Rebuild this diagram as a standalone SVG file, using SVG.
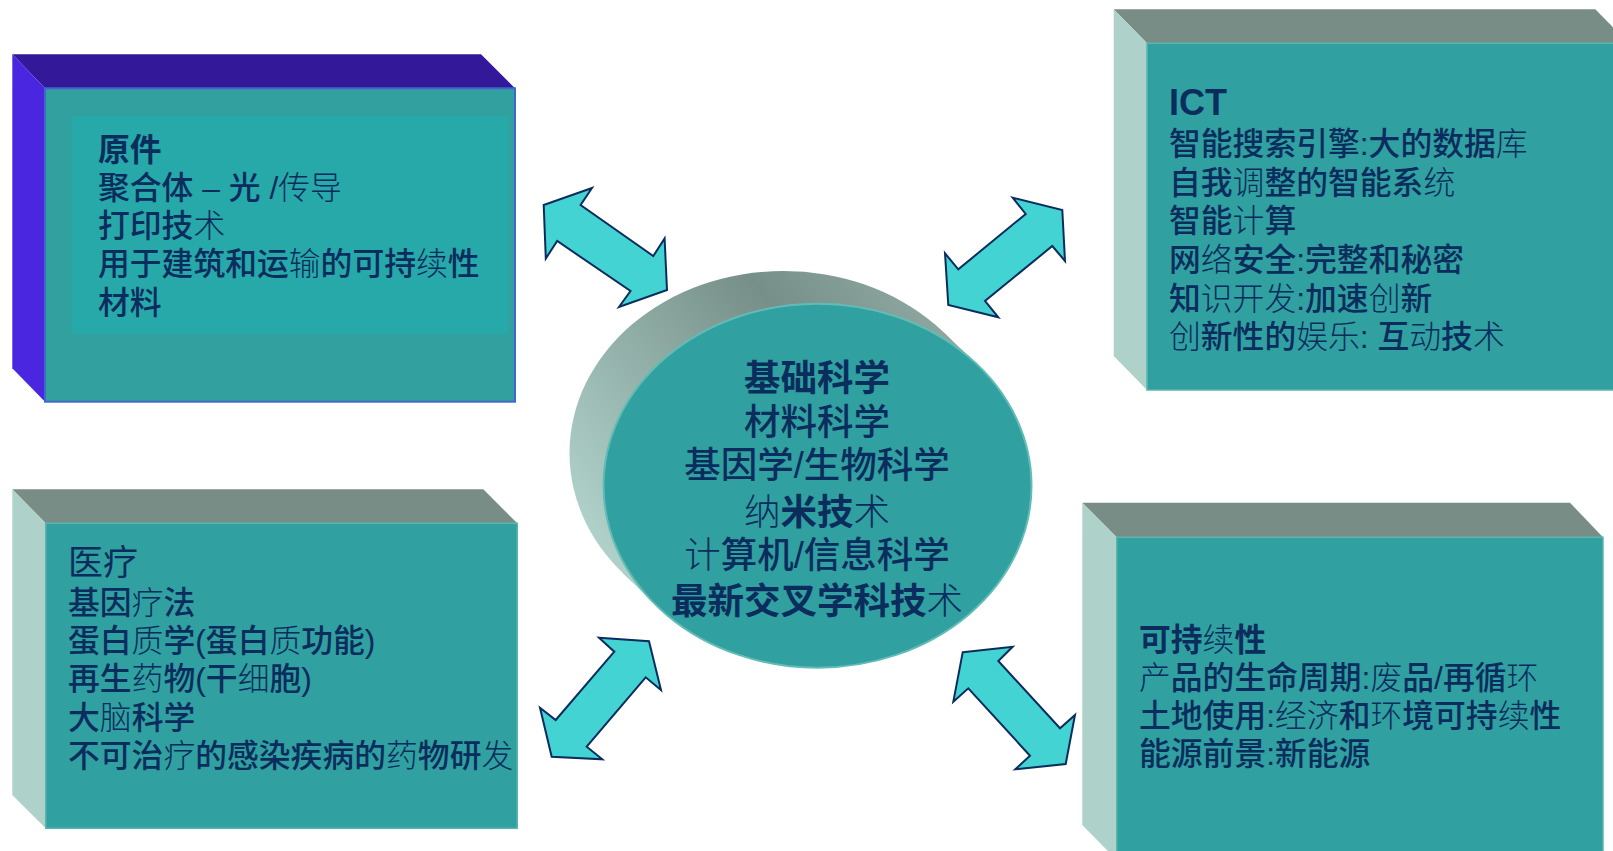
<svg xmlns="http://www.w3.org/2000/svg" width="1613" height="851" viewBox="0 0 1613 851">
<defs>
<style>
.tx{font-family:"Liberation Sans","Noto Sans CJK SC","Noto Sans CJK JP",sans-serif;fill:#0b2d5e;font-size:31.8px;font-weight:500}
.h{font-weight:700}
.l{font-weight:300}
.el{font-size:36.5px;text-anchor:middle}
.top{fill:#778d86}
.side{fill:#aed2ca}
.front{fill:#31a0a0;stroke:#5db6ae;stroke-width:1.5}
.arr{fill:#43d3d3;stroke:#0b2d5e;stroke-width:2;stroke-linejoin:miter}
</style>
<linearGradient id="ext" gradientUnits="userSpaceOnUse" x1="585" y1="560" x2="930" y2="300">
<stop offset="0" stop-color="#b3d6ce"/>
<stop offset="0.7" stop-color="#768f88"/>
<stop offset="1" stop-color="#8ea8a1"/>
</linearGradient>
</defs>
<rect width="1613" height="851" fill="#ffffff"/>

<g id="node-materials">
<polygon points="12.3,54.3 481,54.3 515,88.3 45,88.3" fill="#33189a"/>
<polygon points="12.3,54.3 45,88.3 45,401.7 12.3,368.3" fill="#4a26e0"/>
<rect x="45" y="88.3" width="470" height="313.4" fill="#31a09f" stroke="#3f68cc" stroke-width="2"/>
<rect x="71.7" y="116" width="436.3" height="218" fill="#27a8a9"/>
<text class="tx h" x="98" y="161">原件</text>
<text class="tx" x="98" y="199">聚合体 – 光 <tspan class="l">/传导</tspan></text>
<text class="tx" x="98" y="237">打印技<tspan class="l">术</tspan></text>
<text class="tx" x="98" y="275">用于建筑和运<tspan class="l">输</tspan>的可持<tspan class="l">续</tspan>性</text>
<text class="tx" x="98" y="313.5">材料</text>
</g>

<g id="node-ict">
<polygon class="top" points="1113.7,9.3 1595.3,9.3 1629,43.3 1147,43.3"/>
<polygon class="side" points="1113.7,9.3 1147,43.3 1147,390 1113.7,356"/>
<rect class="front" x="1147" y="43.3" width="480" height="346.7"/>
<text x="1169" y="115" font-family="Liberation Sans, Arial, sans-serif" font-weight="700" font-size="36" fill="#0b2d5e">ICT</text>
<text class="tx" x="1169" y="155">智能搜索引擎:大的数据<tspan class="l">库</tspan></text>
<text class="tx" x="1169" y="194">自我<tspan class="l">调</tspan>整的智能系<tspan class="l">统</tspan></text>
<text class="tx" x="1169" y="232">智能<tspan class="l">计</tspan>算</text>
<text class="tx" x="1169" y="271">网<tspan class="l">络</tspan>安全:完整和秘密</text>
<text class="tx" x="1169" y="309.5">知<tspan class="l">识开发</tspan>:加速<tspan class="l">创</tspan>新</text>
<text class="tx" x="1169" y="348"><tspan class="l">创</tspan>新性的<tspan class="l">娱乐: </tspan>互<tspan class="l">动</tspan>技<tspan class="l">术</tspan></text>
</g>

<g id="node-medical">
<polygon class="top" points="12.3,489.3 483.3,489.3 517.3,523.3 45.7,523.3"/>
<polygon class="side" points="12.3,489.3 45.7,523.3 45.7,828.3 12.3,795"/>
<rect class="front" x="45.7" y="523.3" width="471.6" height="305"/>
<text class="tx" x="68" y="575" style="font-size:35px;font-weight:400">医疗</text>
<text class="tx" x="68" y="613.5">基因<tspan class="l">疗</tspan>法</text>
<text class="tx" x="68" y="652">蛋白<tspan class="l">质</tspan>学<tspan class="l">(</tspan>蛋白<tspan class="l">质</tspan>功能<tspan class="l">)</tspan></text>
<text class="tx" x="68" y="690">再生<tspan class="l">药</tspan>物<tspan class="l">(</tspan>干<tspan class="l">细</tspan>胞<tspan class="l">)</tspan></text>
<text class="tx" x="68" y="728.5">大<tspan class="l">脑</tspan>科学</text>
<text class="tx" x="68" y="767">不可治<tspan class="l">疗</tspan>的感染疾病的<tspan class="l">药</tspan>物研<tspan class="l">发</tspan></text>
</g>

<g id="node-sustainability">
<polygon class="top" points="1082.3,502.7 1570,502.7 1603,537.3 1116.7,537.3"/>
<polygon class="side" points="1082.3,502.7 1116.7,537.3 1116.7,860 1082.3,825"/>
<rect class="front" x="1116.7" y="537.3" width="486.3" height="330"/>
<text class="tx h" x="1139" y="651">可持<tspan class="l">续</tspan>性</text>
<text class="tx" x="1139" y="689"><tspan class="l">产</tspan>品的生命周期:<tspan class="l">废</tspan>品/再循<tspan class="l">环</tspan></text>
<text class="tx" x="1139" y="727">土地使用:<tspan class="l">经济</tspan>和<tspan class="l">环</tspan>境可持<tspan class="l">续</tspan>性</text>
<text class="tx" x="1139" y="765">能源前景:新能源</text>
</g>

<g id="node-core">
<ellipse cx="783.5" cy="453" rx="214" ry="182" fill="url(#ext)"/>
<polygon points="977.8,365.1 943.8,332.4 623.2,573.6 657.2,606.3" fill="url(#ext)"/>
<ellipse cx="817.5" cy="485.7" rx="214" ry="182" fill="#31a0a0" stroke="#62bcb5" stroke-width="2"/>
<text class="tx el h" x="817" y="391">基础科学</text>
<text class="tx el" x="817" y="435">材料科学</text>
<text class="tx el" x="817" y="478">基因学/生物科学</text>
<text class="tx el" x="817" y="525"><tspan class="l">纳</tspan><tspan class="h">米技</tspan><tspan class="l">术</tspan></text>
<text class="tx el" x="817" y="568"><tspan class="l">计</tspan>算机/信息科学</text>
<text class="tx el" x="817" y="614"><tspan class="h">最新交叉学科技</tspan><tspan class="l">术</tspan></text>
</g>

<g id="connectors">
<polygon class="arr" points="543.7,205 592,188 580.6,205 653.3,256 664.6,238.5 667,290 619,307 630.5,291 557.2,241 545.8,258.5"/>
<polygon class="arr" points="1012.7,197.7 1062.3,210 1065,261 1052.3,246 985,301 998.3,317.3 948.3,305 945,253.3 958.3,269.3 1025.7,214"/>
<polygon class="arr" points="599,637.7 649,641.3 661,690 645.7,677.3 586.7,746.7 602.3,759.3 551.7,756.7 540,707.7 555.7,720 614.3,651.7"/>
<polygon class="arr" points="962.7,652.3 1012.7,646.7 998.3,661 1060,728.3 1075,715 1065.7,764 1015.3,769.3 1030,755.7 968.3,688.3 953.3,701.7"/>
</g>
</svg>
